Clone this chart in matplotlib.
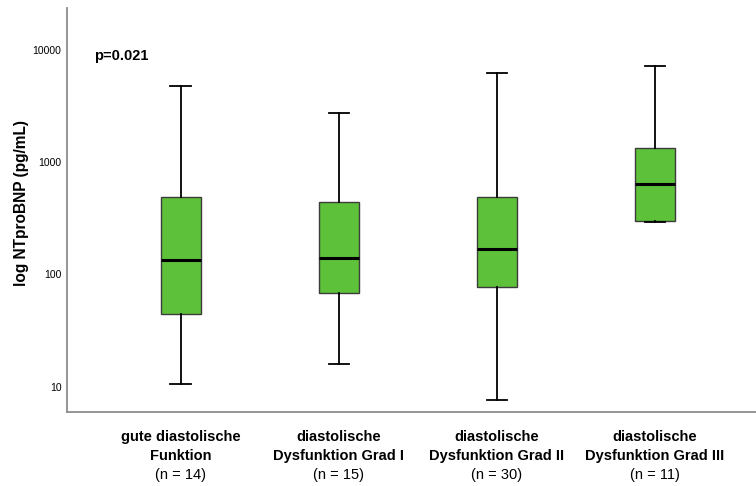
import numpy as np
import matplotlib.pyplot as plt

plt.rcParams['font.family'] = ['Liberation Sans', 'DejaVu Sans']

# group labels and box statistics (pg/mL)
line1 = ["gute diastolische", "diastolische", "diastolische", "diastolische"]
line2 = ["Funktion", "Dysfunktion Grad I", "Dysfunktion Grad II",
         "Dysfunktion Grad III"]
n_counts = [14, 15, 30, 11]
whisker_low = [10.5, 16, 7.6, 291]
q1 = [44, 68, 77, 299]
median = [134, 139, 167, 634]
q3 = [486, 439, 486, 1327]
whisker_high = [4730, 2720, 6180, 7130]

stats = []
for i in range(len(line1)):
    stats.append({'whislo': whisker_low[i], 'q1': q1[i], 'med': median[i],
                  'q3': q3[i], 'whishi': whisker_high[i], 'fliers': []})

fig = plt.figure(figsize=(7.56, 4.86), dpi=100)
ax = fig.add_axes([0.0886, 0.152, 0.9114, 0.8315])

pos = np.arange(1, len(line1) + 1)
ax.bxp(stats, positions=pos, widths=0.253, capwidths=0.13, patch_artist=True,
       showfliers=False,
       boxprops=dict(facecolor='#5DC13A', edgecolor='#3c3c3c', linewidth=1.0),
       medianprops=dict(color='black', linewidth=2.2),
       whiskerprops=dict(color='black', linewidth=1.3),
       capprops=dict(color='black', linewidth=1.3))

ax.set_yscale('log')
ax.set_ylim(10 ** 0.772, 10 ** 4.37)
ax.set_xlim(0.28, 4.64)
ax.set_yticks([10, 100, 1000, 10000])
ax.set_yticklabels(['10', '100', '1000', '10000'])
ax.yaxis.set_minor_locator(plt.NullLocator())
ax.tick_params(axis='y', length=0, labelsize=7.5, pad=4)
ax.tick_params(axis='x', length=0)
ax.set_xticks(pos)
ax.set_xticklabels([])

for s in ['top', 'right']:
    ax.spines[s].set_visible(False)
for s in ['left', 'bottom']:
    ax.spines[s].set_color('#8c8c8c')
    ax.spines[s].set_linewidth(1.3)

ax.set_ylabel('log NTproBNP (pg/mL)', fontsize=11.2, fontweight='bold')
ax.yaxis.set_label_coords(-0.055, 0.517)

ax.text(0.04, 0.881, 'p=0.021', transform=ax.transAxes, fontsize=10.5,
        fontweight='bold', va='center', ha='left')

trans = ax.get_xaxis_transform()
for i, p in enumerate(pos):
    ax.text(p, -0.062, line1[i], transform=trans, ha='center', va='center',
            fontsize=10.5, fontweight='bold')
    ax.text(p, -0.109, line2[i], transform=trans, ha='center', va='center',
            fontsize=10.5, fontweight='bold')
    ax.text(p, -0.156, '(n = %d)' % n_counts[i], transform=trans, ha='center',
            va='center', fontsize=10.5)

fig.savefig('out.png', dpi=100)
